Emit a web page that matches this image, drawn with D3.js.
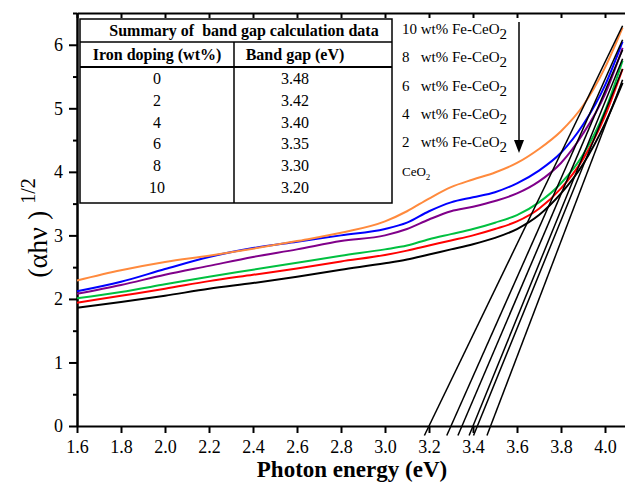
<!DOCTYPE html>
<html>
<head>
<meta charset="utf-8">
<script src="https://cdn.jsdelivr.net/npm/d3@7"></script>
<style>
  body { margin: 0; background: #fff; }
  svg { display: block; font-family: "Liberation Serif", "Times New Roman", serif; }
  .axis path, .axis line { stroke: #000; stroke-width: 2; }
  .axis text { font-size: 18px; fill: #000; font-family: "Liberation Serif", serif; }
</style>
</head>
<body>
<div id="chart"></div>
<script>
var width = 625;
var height = 484;

// photon energy grid (eV)
var energy = [1.6, 1.8, 2.0, 2.2, 2.4, 2.6, 2.8, 3.0, 3.1, 3.2, 3.3, 3.4, 3.5, 3.6, 3.7, 3.8, 3.9, 4.0, 4.08];

// (alpha h nu)^1/2 for each sample
var fe10 = [2.29, 2.45, 2.58, 2.68, 2.79, 2.91, 3.04, 3.22, 3.38, 3.58, 3.76, 3.88, 3.99, 4.14, 4.36, 4.64, 5.04, 5.64, 6.27];
var fe8  = [2.12, 2.27, 2.47, 2.66, 2.80, 2.90, 3.00, 3.10, 3.20, 3.38, 3.52, 3.60, 3.68, 3.82, 4.02, 4.30, 4.74, 5.36, 6.05];
var fe6  = [2.08, 2.22, 2.38, 2.52, 2.66, 2.78, 2.91, 3.00, 3.10, 3.25, 3.38, 3.45, 3.54, 3.66, 3.85, 4.14, 4.60, 5.22, 5.95];
var fe4  = [2.01, 2.11, 2.23, 2.35, 2.46, 2.57, 2.68, 2.78, 2.84, 2.94, 3.02, 3.10, 3.20, 3.32, 3.52, 3.82, 4.27, 4.96, 5.75];
var fe2  = [1.94, 2.05, 2.16, 2.28, 2.38, 2.48, 2.59, 2.69, 2.76, 2.84, 2.92, 3.00, 3.10, 3.22, 3.42, 3.74, 4.20, 4.88, 5.62];
var ceo2 = [1.86, 1.95, 2.05, 2.16, 2.25, 2.35, 2.46, 2.56, 2.62, 2.70, 2.78, 2.86, 2.96, 3.10, 3.32, 3.66, 4.12, 4.76, 5.40];

var seriesColors = ["#ff8a3d", "#0000ff", "#80008a", "#00c040", "#ff0000", "#000000"];

// band gap table (wt% Fe -> Eg)
var dopingLevels = ["0", "2", "4", "6", "8", "10"];
var bandGaps = [3.48, 3.42, 3.40, 3.35, 3.30, 3.20];
// tangent lines: value reached at the right end (4.08 eV), same order as table
var fitTop = [5.45, 5.62, 5.78, 5.92, 6.08, 6.30];

var legendLabels = ["10 wt% Fe-CeO", "8   wt% Fe-CeO", "6   wt% Fe-CeO", "4   wt% Fe-CeO", "2   wt% Fe-CeO"];

var xTicks = [1.6, 1.8, 2.0, 2.2, 2.4, 2.6, 2.8, 3.0, 3.2, 3.4, 3.6, 3.8, 4.0];
var yTicks = [0, 1, 2, 3, 4, 5, 6];
var yMinor = [0.5, 1.5, 2.5, 3.5, 4.5, 5.5, 6.5];

var svg = d3.select("#chart").append("svg")
  .attr("width", width)
  .attr("height", height);

var x = d3.scaleLinear().domain([1.6, 4.1]).range([77, 627]);
var y = d3.scaleLinear().domain([0, 6.5]).range([426, 13]);

// axes
svg.append("g").attr("class", "axis")
  .attr("transform", "translate(0," + y(0) + ")")
  .call(d3.axisBottom(x).tickValues(xTicks).tickSize(7).tickSizeOuter(0).tickFormat(d3.format(".1f")))
  .selectAll("text").attr("dy", "0.95em");

svg.append("g").attr("class", "axis")
  .attr("transform", "translate(0," + y(6.5) + ")")
  .call(d3.axisBottom(x).tickValues(xTicks).tickSize(5).tickSizeOuter(0).tickFormat(""));

svg.append("g").attr("class", "axis")
  .attr("transform", "translate(" + x(1.6) + ",0)")
  .call(d3.axisLeft(y).tickValues(yTicks).tickSize(8).tickSizeOuter(0).tickPadding(6).tickFormat(d3.format("d")));

svg.append("g").attr("class", "axis")
  .attr("transform", "translate(" + x(1.6) + ",0)")
  .call(d3.axisLeft(y).tickValues(yMinor).tickSize(4).tickSizeOuter(0).tickFormat(""));

// curves
var allSeries = [fe10, fe8, fe6, fe4, fe2, ceo2];
var line = d3.line()
  .x(function(d, i) { return x(energy[i]); })
  .y(function(d) { return y(d); })
  .curve(d3.curveMonotoneX);

svg.append("g").selectAll("path")
  .data(allSeries.slice().reverse())
  .enter().append("path")
  .attr("d", line)
  .attr("fill", "none")
  .attr("stroke", function(d, i) { return seriesColors[5 - i]; })
  .attr("stroke-width", 2);

// tangent lines to find Eg
svg.append("g").selectAll("line")
  .data(bandGaps)
  .enter().append("line")
  .attr("x1", function(d, i) { var s = fitTop[i] / (4.08 - d); return x(d - 0.15 / s); })
  .attr("y1", y(-0.15))
  .attr("x2", x(4.08))
  .attr("y2", function(d, i) { return y(fitTop[i]); })
  .attr("stroke", "#000")
  .attr("stroke-width", 1.5);

// summary table
var tb = svg.append("g");
var tLeft = 80, tRight = 392, tTop = 19, tBottom = 203, colX = 234;
tb.append("rect").attr("x", tLeft).attr("y", tTop)
  .attr("width", tRight - tLeft).attr("height", tBottom - tTop)
  .attr("fill", "#fff").attr("stroke", "#000").attr("stroke-width", 1.5);
tb.append("line").attr("x1", tLeft).attr("x2", tRight).attr("y1", 42).attr("y2", 42)
  .attr("stroke", "#000").attr("stroke-width", 1.5);
tb.append("line").attr("x1", tLeft).attr("x2", tRight).attr("y1", 67).attr("y2", 67)
  .attr("stroke", "#000").attr("stroke-width", 2);
tb.append("line").attr("x1", colX).attr("x2", colX).attr("y1", 42).attr("y2", tBottom)
  .attr("stroke", "#000").attr("stroke-width", 1.5);
tb.append("text").attr("x", 244).attr("y", 36).attr("text-anchor", "middle")
  .style("font-size", "16px").style("font-weight", "bold")
  .attr("xml:space", "preserve")
  .text("Summary of  band gap calculation data");
tb.append("text").attr("x", 157).attr("y", 60).attr("text-anchor", "middle")
  .style("font-size", "16px").style("font-weight", "bold").text("Iron doping (wt%)");
tb.append("text").attr("x", 295).attr("y", 60).attr("text-anchor", "middle")
  .style("font-size", "16px").style("font-weight", "bold").text("Band gap (eV)");
tb.selectAll(".dop").data(dopingLevels).enter().append("text")
  .attr("x", 157).attr("y", function(d, i) { return 84 + i * 21.8; })
  .attr("text-anchor", "middle").style("font-size", "16px").text(function(d) { return d; });
tb.selectAll(".gap").data(bandGaps).enter().append("text")
  .attr("x", 295).attr("y", function(d, i) { return 84 + i * 21.8; })
  .attr("text-anchor", "middle").style("font-size", "16px").text(function(d) { return d.toFixed(2); });

// legend
var lg = svg.append("g");
legendLabels.forEach(function(lbl, i) {
  var t = lg.append("text").attr("x", 402).attr("y", 34 + i * 28.3)
    .attr("xml:space", "preserve").style("font-size", "15px");
  t.append("tspan").text(lbl);
  t.append("tspan").attr("dy", 5).text("2");
});
var ce = lg.append("text").attr("x", 402).attr("y", 176).style("font-size", "13px");
ce.append("tspan").text("CeO");
ce.append("tspan").attr("dy", 4).style("font-size", "9px").text("2");

// arrow
lg.append("line").attr("x1", 519).attr("x2", 519).attr("y1", 22).attr("y2", 142)
  .attr("stroke", "#000").attr("stroke-width", 1.5);
lg.append("path").attr("d", "M514,140 L524,140 L519,153 Z").attr("fill", "#000");

// axis titles
var yl = svg.append("text")
  .attr("transform", "translate(47,228) rotate(-90)")
  .attr("text-anchor", "middle")
  .attr("xml:space", "preserve")
  .style("font-size", "28px");
yl.append("tspan").text("(\u03b1h\u03bd ) ");
yl.append("tspan").attr("dy", -12).style("font-size", "20px").text("1/2");

svg.append("text")
  .attr("x", 352).attr("y", 477)
  .attr("text-anchor", "middle")
  .style("font-size", "23px").style("font-weight", "bold")
  .text("Photon energy (eV)");
</script>
</body>
</html>
